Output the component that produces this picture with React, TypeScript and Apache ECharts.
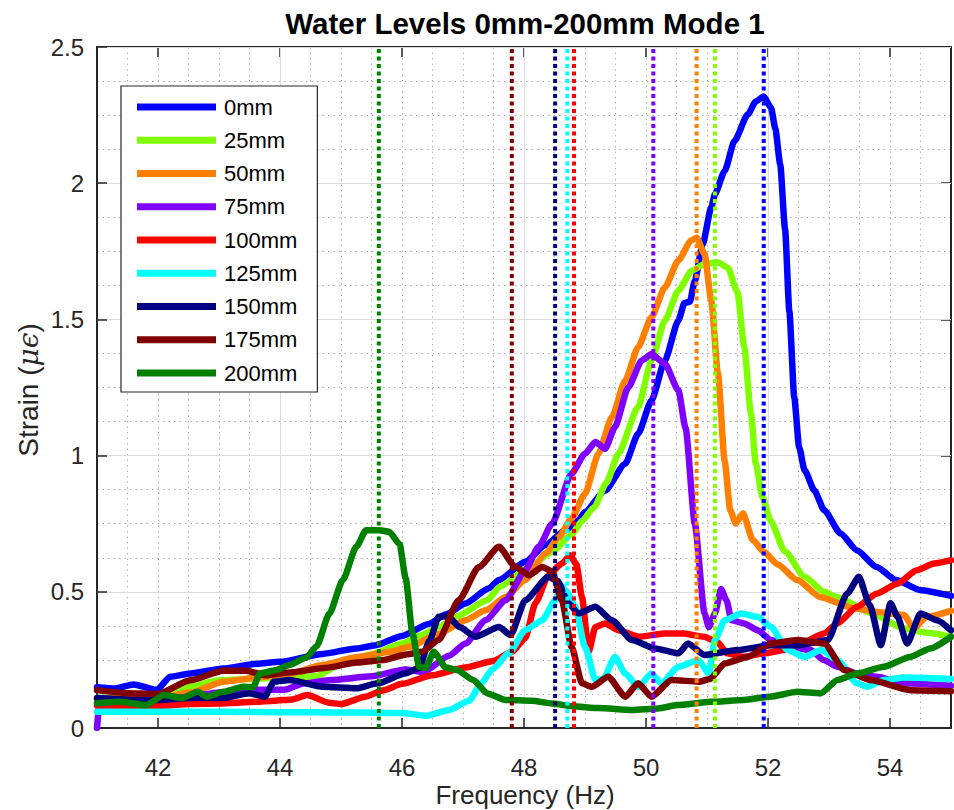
import React, { useEffect, useRef } from "react";
import * as echarts from "echarts";

const seriesNames = ["0mm", "25mm", "50mm", "75mm", "100mm", "125mm", "150mm", "175mm", "200mm"];
const seriesColors = ["#0000FF", "#80FF00", "#FF8000", "#8000FF", "#FF0000", "#00FFFF", "#000080", "#800000", "#008000"];
const peakFreqs = [51.93, 51.13, 50.83, 50.12, 48.82, 48.71, 48.51, 47.8, 45.62];
const xTickValues = [42, 44, 46, 48, 50, 52, 54];

const mm0 = [[41.0,0.15],[41.3,0.145],[41.6,0.16],[41.98,0.14],[42.2,0.188],[42.53,0.2],[43.07,0.218],[43.62,0.236],[44.0,0.243],[44.7,0.272],[45.25,0.292],[45.57,0.304],[46.0,0.338],[46.44,0.382],[46.72,0.417],[47.04,0.457],[47.42,0.512],[47.59,0.543],[48.02,0.61],[48.35,0.671],[48.68,0.726],[48.89,0.762],[49.0,0.793],[49.33,0.872],[49.66,0.97],[49.87,1.08],[50.09,1.202],[50.31,1.349],[50.53,1.496],[50.63,1.56],[50.72,1.565],[50.8,1.642],[50.93,1.777],[51.07,1.911],[51.13,1.96],[51.29,2.045],[51.45,2.155],[51.67,2.253],[51.8,2.3],[51.93,2.318],[52.05,2.277],[52.12,2.2],[52.2,2.07],[52.28,1.83],[52.35,1.53],[52.43,1.215],[52.51,1.031],[52.6,0.946],[52.76,0.872],[52.92,0.8],[53.19,0.714],[53.46,0.652],[53.78,0.591],[54.1,0.543],[54.5,0.506],[55.0,0.485]];
const mm25 = [[41.0,0.11],[41.5,0.11],[42.0,0.12],[42.5,0.15],[43.0,0.175],[43.5,0.18],[44.0,0.185],[44.6,0.19],[45.0,0.235],[45.5,0.27],[46.0,0.31],[46.3,0.34],[46.6,0.37],[46.9,0.41],[47.4,0.47],[47.6,0.518],[48.02,0.579],[48.46,0.646],[48.78,0.71],[48.95,0.76],[49.15,0.81],[49.35,0.9],[49.55,1.008],[49.87,1.178],[50.09,1.349],[50.31,1.496],[50.53,1.606],[50.75,1.679],[50.96,1.703],[51.18,1.709],[51.34,1.69],[51.5,1.6],[51.61,1.4],[51.72,1.154],[51.8,0.97],[51.91,0.848],[52.04,0.762],[52.27,0.65],[52.6,0.555],[52.92,0.5],[53.14,0.48],[53.68,0.423],[54.23,0.365],[54.6,0.35],[55.0,0.335]];
const mm50 = [[41.0,0.105],[41.5,0.11],[42.0,0.11],[42.53,0.13],[43.07,0.17],[43.62,0.185],[44.16,0.2],[44.7,0.231],[45.25,0.26],[45.8,0.28],[46.12,0.298],[46.6,0.345],[47.04,0.396],[47.37,0.432],[47.7,0.481],[48.02,0.543],[48.35,0.64],[48.57,0.7],[48.78,0.77],[49.0,0.86],[49.22,1.007],[49.44,1.141],[49.66,1.276],[49.87,1.398],[50.09,1.508],[50.31,1.618],[50.53,1.716],[50.74,1.79],[50.83,1.8],[50.96,1.74],[51.07,1.569],[51.18,1.3],[51.29,0.98],[51.38,0.8],[51.47,0.751],[51.59,0.788],[51.75,0.69],[51.94,0.645],[52.16,0.6],[52.48,0.543],[52.86,0.48],[53.41,0.44],[53.79,0.426],[54.23,0.415],[54.39,0.365],[54.6,0.408],[55.0,0.43]];
const mm75 = [[41.0,0.0],[41.04,0.085],[41.5,0.09],[42.0,0.1],[42.5,0.115],[43.0,0.13],[43.62,0.14],[44.07,0.14],[44.4,0.164],[44.83,0.176],[45.5,0.19],[46.05,0.215],[46.35,0.205],[46.77,0.265],[47.04,0.31],[47.37,0.396],[47.7,0.469],[48.02,0.579],[48.24,0.665],[48.46,0.75],[48.78,0.934],[49.0,1.007],[49.17,1.05],[49.33,1.025],[49.49,1.104],[49.71,1.251],[49.93,1.349],[50.09,1.373],[50.31,1.337],[50.53,1.24],[50.65,1.1],[50.8,0.75],[50.96,0.42],[51.03,0.37],[51.13,0.42],[51.23,0.51],[51.32,0.469],[51.4,0.396],[51.61,0.384],[51.83,0.359],[52.05,0.323],[52.37,0.298],[52.7,0.286],[52.92,0.249],[53.14,0.225],[53.46,0.2],[53.79,0.188],[54.22,0.164],[55.0,0.155]];
const mm100 = [[41.0,0.083],[41.5,0.08],[42.0,0.08],[42.53,0.088],[43.0,0.09],[43.6,0.096],[43.9,0.1],[44.2,0.105],[44.45,0.121],[44.8,0.093],[45.0,0.088],[45.4,0.115],[45.7,0.139],[46.0,0.162],[46.5,0.194],[47.04,0.222],[47.48,0.245],[47.81,0.28],[48.02,0.33],[48.19,0.46],[48.4,0.56],[48.62,0.604],[48.76,0.634],[48.86,0.6],[48.95,0.481],[49.06,0.28],[49.17,0.371],[49.33,0.384],[49.55,0.359],[49.88,0.335],[50.3,0.347],[50.62,0.347],[50.95,0.335],[51.17,0.316],[51.33,0.274],[51.6,0.261],[51.93,0.274],[52.26,0.286],[52.59,0.316],[52.92,0.347],[53.14,0.384],[53.46,0.445],[53.79,0.494],[54.12,0.53],[54.44,0.579],[54.72,0.604],[55.0,0.616]];
const mm125 = [[41.0,0.06],[42.0,0.06],[43.0,0.06],[44.0,0.058],[45.0,0.057],[45.6,0.056],[46.0,0.055],[46.4,0.045],[46.77,0.066],[47.1,0.1],[47.3,0.164],[47.48,0.215],[47.75,0.274],[48.02,0.359],[48.3,0.396],[48.51,0.469],[48.62,0.52],[48.7,0.5],[48.84,0.445],[49.0,0.298],[49.17,0.176],[49.3,0.18],[49.49,0.261],[49.66,0.2],[49.87,0.151],[50.09,0.2],[50.25,0.164],[50.53,0.225],[50.86,0.249],[51.03,0.2],[51.13,0.323],[51.29,0.396],[51.56,0.42],[51.83,0.408],[52.05,0.371],[52.32,0.286],[52.6,0.261],[52.87,0.286],[53.14,0.249],[53.46,0.164],[53.63,0.151],[53.9,0.176],[54.23,0.185],[55.0,0.18]];
const mm150 = [[41.0,0.11],[41.5,0.105],[42.0,0.103],[42.53,0.11],[43.07,0.11],[43.5,0.128],[43.75,0.115],[43.9,0.17],[44.16,0.176],[44.7,0.151],[45.25,0.146],[45.6,0.164],[46.05,0.2],[46.28,0.22],[46.45,0.32],[46.6,0.408],[46.75,0.41],[46.95,0.37],[47.2,0.335],[47.59,0.371],[47.78,0.341],[48.02,0.469],[48.4,0.555],[48.55,0.54],[48.73,0.458],[48.89,0.42],[49.17,0.445],[49.44,0.396],[49.77,0.323],[50.15,0.292],[50.53,0.274],[50.69,0.31],[50.96,0.268],[51.5,0.286],[52.05,0.304],[52.5,0.304],[52.98,0.323],[53.3,0.494],[53.49,0.555],[53.67,0.45],[53.85,0.304],[54.01,0.458],[54.12,0.41],[54.28,0.31],[54.5,0.42],[54.77,0.396],[55.0,0.359]];
const mm175 = [[41.0,0.139],[41.5,0.128],[42.0,0.125],[42.53,0.175],[43.07,0.21],[43.45,0.21],[43.75,0.194],[44.2,0.205],[44.72,0.22],[45.26,0.24],[45.7,0.25],[46.07,0.27],[46.33,0.28],[46.6,0.323],[46.93,0.469],[47.26,0.591],[47.59,0.665],[47.86,0.591],[48.08,0.561],[48.3,0.591],[48.46,0.575],[48.62,0.469],[48.78,0.298],[48.95,0.164],[49.11,0.151],[49.38,0.188],[49.66,0.115],[49.87,0.164],[50.09,0.115],[50.42,0.176],[50.87,0.17],[51.05,0.18],[51.29,0.237],[51.67,0.261],[52.05,0.31],[52.49,0.323],[52.92,0.31],[53.25,0.213],[53.68,0.176],[54.34,0.139],[55.0,0.135]];
const mm200 = [[41.0,0.091],[41.4,0.096],[41.8,0.084],[42.1,0.121],[42.4,0.11],[42.65,0.133],[42.8,0.115],[43.07,0.133],[43.4,0.151],[43.56,0.15],[43.67,0.2],[43.94,0.213],[44.15,0.231],[44.43,0.258],[44.6,0.3],[44.81,0.42],[45.03,0.543],[45.25,0.665],[45.41,0.726],[45.63,0.726],[45.79,0.72],[45.96,0.675],[46.06,0.55],[46.17,0.35],[46.28,0.225],[46.39,0.22],[46.52,0.28],[46.72,0.222],[46.9,0.213],[47.17,0.176],[47.4,0.127],[47.7,0.103],[48.13,0.1],[48.46,0.09],[48.79,0.08],[49.22,0.073],[49.77,0.066],[50.2,0.072],[50.51,0.084],[51.06,0.096],[51.6,0.103],[52.03,0.115],[52.48,0.133],[52.86,0.127],[53.14,0.176],[53.46,0.2],[53.9,0.225],[54.33,0.261],[54.66,0.292],[55.0,0.335]];

const seriesData = [mm0, mm25, mm50, mm75, mm100, mm125, mm150, mm175, mm200];

const xMin = 41;
const xMax = 55;
const yMin = 0;
const yMax = 2.5;

const FONT = "'Liberation Sans', Arial, Helvetica, sans-serif";
const AXIS_COLOR = "#262626";
const MAJOR_GRID = "#dcdcdc";
const MINOR_GRID = "#b0b0b0";

function buildOption() {
  const curves = seriesData.map((d, i) => ({
    type: "line",
    name: seriesNames[i],
    data: d,
    xAxisIndex: 0,
    yAxisIndex: 0,
    showSymbol: false,
    symbol: "none",
    smooth: 0.2,
    smoothMonotone: "x",
    z: 3,
    lineStyle: { color: seriesColors[i], width: 6.5, join: "round", cap: "round" },
    itemStyle: { color: seriesColors[i] },
    silent: true,
  }));
  const peaks = peakFreqs.map((f, i) => ({
    type: "line",
    name: seriesNames[i] + " peak",
    data: [[f, yMin], [f, yMax]],
    xAxisIndex: 0,
    yAxisIndex: 0,
    showSymbol: false,
    symbol: "none",
    z: 4,
    lineStyle: { color: seriesColors[i], width: 4, type: [4, 3.5] },
    itemStyle: { color: seriesColors[i] },
    silent: true,
  }));

  const hidden = { show: false };
  const boxTick = {
    show: true,
    inside: true,
    length: 10,
    customValues: xTickValues,
    lineStyle: { color: AXIS_COLOR, width: 1.5 },
  };
  return {
    animation: false,
    backgroundColor: "#ffffff",
    grid: { left: 97, top: 47, right: 1, bottom: 82, containLabel: false },
    xAxis: [
      {
        type: "value",
        min: xMin,
        max: xMax,
        interval: 1,
        position: "bottom",
        axisLine: { show: true, onZero: false, lineStyle: { color: AXIS_COLOR, width: 2 } },
        axisTick: boxTick,
        axisLabel: {
          show: true,
          formatter: (v: number) => (xTickValues.indexOf(Math.round(v * 1000) / 1000) >= 0 ? String(v) : ""),
          fontSize: 24,
          lineHeight: 24,
          fontFamily: FONT,
          color: AXIS_COLOR,
          margin: 27,
        },
        splitLine: { show: true, lineStyle: { color: ["rgba(0,0,0,0)", MAJOR_GRID], width: 1 } },
        z: 2,
      },
      {
        type: "value",
        min: xMin,
        max: xMax,
        interval: 1,
        position: "top",
        axisLine: { show: true, onZero: false, lineStyle: { color: AXIS_COLOR, width: 2 } },
        axisTick: boxTick,
        axisLabel: hidden,
        splitLine: hidden,
      },
      {
        type: "value",
        min: xMin,
        max: xMax,
        interval: 0.5,
        position: "bottom",
        axisLine: hidden,
        axisTick: hidden,
        axisLabel: hidden,
        splitLine: { show: true, lineStyle: { color: MINOR_GRID, width: 1, type: [1.5, 4] } },
        z: 0,
      },
    ],
    yAxis: [
      {
        type: "value",
        min: yMin,
        max: yMax,
        interval: 0.5,
        position: "left",
        axisLine: { show: true, onZero: false, lineStyle: { color: AXIS_COLOR, width: 2 } },
        axisTick: { show: true, inside: true, length: 10, lineStyle: { color: AXIS_COLOR, width: 1.5 } },
        axisLabel: { show: true, fontSize: 24, fontFamily: FONT, color: AXIS_COLOR, margin: 13 },
        splitLine: { show: true, lineStyle: { color: MAJOR_GRID, width: 1 } },
        z: 2,
      },
      {
        type: "value",
        min: yMin,
        max: yMax,
        interval: 0.5,
        position: "right",
        axisLine: { show: true, onZero: false, lineStyle: { color: AXIS_COLOR, width: 2 } },
        axisTick: { show: true, inside: true, length: 10, lineStyle: { color: AXIS_COLOR, width: 1.5 } },
        axisLabel: hidden,
        splitLine: hidden,
      },
      {
        type: "value",
        min: yMin,
        max: yMax,
        interval: 0.125,
        position: "left",
        axisLine: hidden,
        axisTick: hidden,
        axisLabel: hidden,
        splitLine: { show: true, lineStyle: { color: MINOR_GRID, width: 1, type: [1.5, 4] } },
        z: 0,
      },
    ],
    legend: {
      data: seriesNames,
      orient: "vertical",
      left: 121,
      top: 86,
      padding: [10, 20, 8, 16],
      itemGap: 11.25,
      itemWidth: 79,
      itemHeight: 7,
      icon: "rect",
      backgroundColor: "#ffffff",
      borderColor: AXIS_COLOR,
      borderWidth: 1.2,
      selectedMode: false,
      textStyle: { fontSize: 22, fontFamily: FONT, color: "#000000", lineHeight: 22, padding: [0, 0, 0, 3] },
      z: 10,
    },
    graphic: [
      {
        type: "text",
        x: 525,
        y: 23,
        style: {
          text: "Water Levels 0mm-200mm Mode 1",
          fontSize: 29.5,
          fontWeight: "bold",
          fontFamily: FONT,
          fill: "#000000",
          textAlign: "center",
          textVerticalAlign: "middle",
        },
      },
      {
        type: "text",
        x: 525,
        y: 795,
        style: {
          text: "Frequency (Hz)",
          fontSize: 26,
          fontFamily: FONT,
          fill: AXIS_COLOR,
          textAlign: "center",
          textVerticalAlign: "middle",
        },
      },
      {
        type: "text",
        x: 28,
        y: 390,
        rotation: Math.PI / 2,
        style: {
          text: "{n|Strain (}{i|μϵ}{n|)}",
          rich: {
            n: { fontSize: 28, fontFamily: FONT, fill: AXIS_COLOR },
            i: { fontSize: 28, fontFamily: "'DejaVu Serif', serif", fontStyle: "italic", fill: AXIS_COLOR },
          },
          textAlign: "center",
          textVerticalAlign: "middle",
        },
      },
    ],
    series: [...curves, ...peaks],
  };
}

export default function App() {
  const ref = useRef<HTMLDivElement>(null);
  useEffect(() => {
    if (!ref.current) return;
    const chart = echarts.init(ref.current, null, { renderer: "svg" });
    chart.setOption(buildOption() as any);
    return () => chart.dispose();
  }, []);
  return (
    <div
      ref={ref}
      style={{ position: "fixed", left: 0, top: 0, width: 954, height: 810, background: "#ffffff" }}
    />
  );
}
